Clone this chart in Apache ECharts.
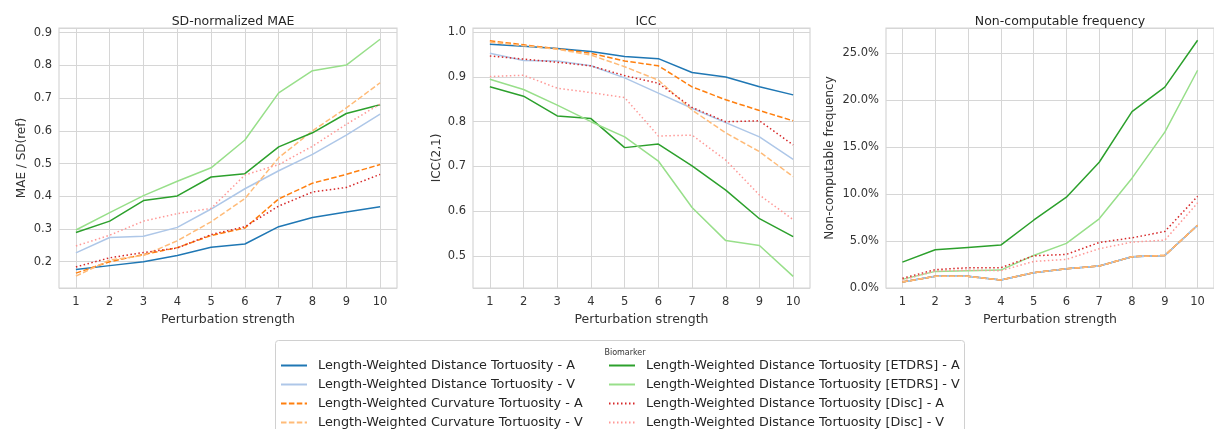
<!DOCTYPE html>
<html>
<head>
<meta charset="utf-8">
<script src="https://cdn.jsdelivr.net/npm/echarts@6/dist/echarts.min.js"></script>
<style>
  html, body { margin: 0; padding: 0; background: #fff; }
  #main { width: 1214px; height: 429px; }
</style>
</head>
<body>
<div id="main"></div>
<script>
// perturbation strengths on the x axis
const strengths = ['1', '2', '3', '4', '5', '6', '7', '8', '9', '10'];

const biomarkers = [
  'Length-Weighted Distance Tortuosity - A',
  'Length-Weighted Distance Tortuosity - V',
  'Length-Weighted Curvature Tortuosity - A',
  'Length-Weighted Curvature Tortuosity - V',
  'Length-Weighted Distance Tortuosity [ETDRS] - A',
  'Length-Weighted Distance Tortuosity [ETDRS] - V',
  'Length-Weighted Distance Tortuosity [Disc] - A',
  'Length-Weighted Distance Tortuosity [Disc] - V'
];

// SD-normalized MAE
const maeDistA  = [0.176, 0.188, 0.200, 0.219, 0.244, 0.254, 0.307, 0.335, 0.352, 0.368];
const maeDistV  = [0.227, 0.274, 0.278, 0.305, 0.361, 0.423, 0.478, 0.528, 0.587, 0.651];
const maeCurvA  = [0.165, 0.200, 0.222, 0.243, 0.280, 0.303, 0.392, 0.440, 0.467, 0.497];
const maeCurvV  = [0.156, 0.205, 0.219, 0.264, 0.322, 0.393, 0.518, 0.600, 0.670, 0.747];
const maeEtdrsA = [0.289, 0.324, 0.387, 0.401, 0.459, 0.469, 0.551, 0.594, 0.653, 0.680];
const maeEtdrsV = [0.297, 0.350, 0.402, 0.446, 0.487, 0.572, 0.716, 0.784, 0.801, 0.880];
const maeDiscA  = [0.184, 0.212, 0.228, 0.242, 0.283, 0.307, 0.370, 0.413, 0.427, 0.467];
const maeDiscV  = [0.248, 0.281, 0.324, 0.347, 0.363, 0.465, 0.497, 0.553, 0.620, 0.682];

// ICC(2,1)
const iccDistA  = [0.973, 0.969, 0.964, 0.957, 0.946, 0.941, 0.910, 0.900, 0.878, 0.860];
const iccDistV  = [0.953, 0.937, 0.936, 0.925, 0.898, 0.864, 0.830, 0.798, 0.766, 0.716];
const iccCurvA  = [0.981, 0.972, 0.963, 0.953, 0.936, 0.925, 0.878, 0.849, 0.825, 0.802];
const iccCurvV  = [0.978, 0.970, 0.962, 0.949, 0.923, 0.893, 0.826, 0.775, 0.733, 0.677];
const iccEtdrsA = [0.878, 0.857, 0.813, 0.807, 0.742, 0.750, 0.701, 0.647, 0.583, 0.543];
const iccEtdrsV = [0.895, 0.872, 0.837, 0.800, 0.766, 0.712, 0.608, 0.534, 0.523, 0.454];
const iccDiscA  = [0.947, 0.940, 0.933, 0.925, 0.903, 0.886, 0.832, 0.800, 0.802, 0.748];
const iccDiscV  = [0.901, 0.904, 0.875, 0.865, 0.854, 0.768, 0.770, 0.714, 0.636, 0.581];

// Non-computable frequency (%)
const ncDistA  = [0.64, 1.24, 1.24, 0.85, 1.63, 2.05, 2.34, 3.33, 3.47, 6.69];
const ncDistV  = [0.64, 1.24, 1.24, 0.85, 1.63, 2.05, 2.34, 3.33, 3.47, 6.69];
const ncCurvA  = [0.64, 1.24, 1.24, 0.85, 1.63, 2.05, 2.34, 3.33, 3.47, 6.69];
const ncCurvV  = [0.64, 1.24, 1.24, 0.85, 1.63, 2.05, 2.34, 3.33, 3.47, 6.69];
const ncEtdrsA = [2.76, 4.07, 4.32, 4.57, 7.22, 9.67, 13.4, 18.8, 21.4, 26.4];
const ncEtdrsV = [0.92, 1.77, 1.84, 1.91, 3.47, 4.75, 7.37, 11.7, 16.6, 23.2];
const ncDiscA  = [1.03, 1.95, 2.16, 2.16, 3.43, 3.58, 4.85, 5.35, 6.02, 9.77];
const ncDiscV  = [0.85, 1.81, 1.91, 1.84, 2.83, 3.05, 4.18, 4.89, 5.10, 9.07];

const colors = ['#1f77b4', '#aec7e8', '#ff7f0e', '#ffbb78', '#2ca02c', '#98df8a', '#d62728', '#ff9896'];
const dashes = ['solid', 'solid', [5.5, 2.4], [5.5, 2.4], 'solid', 'solid', [1.5, 2.5], [1.5, 2.5]];

const panels = [
  [maeDistA, maeDistV, maeCurvA, maeCurvV, maeEtdrsA, maeEtdrsV, maeDiscA, maeDiscV],
  [iccDistA, iccDistV, iccCurvA, iccCurvV, iccEtdrsA, iccEtdrsV, iccDiscA, iccDiscV],
  [ncDistA, ncDistV, ncCurvA, ncCurvV, ncEtdrsA, ncEtdrsV, ncDiscA, ncDiscV]
];

const font = 'DejaVu Sans';
const textColor = '#333';
const gridColor = '#d6d6d6';

const grids = [
  { left: 59, top: 28, width: 338, height: 260 },
  { left: 473, top: 28, width: 337, height: 260 },
  { left: 886, top: 28, width: 337, height: 260 }
].map(g => Object.assign(g, { show: true, borderColor: gridColor, borderWidth: 1.2, containLabel: false }));

const xAxes = grids.map((g, i) => ({
  type: 'category',
  gridIndex: i,
  data: strengths,
  boundaryGap: true,
  name: 'Perturbation strength',
  nameLocation: 'middle',
  nameGap: 22,
  nameTextStyle: { fontFamily: font, fontSize: 12.5, color: textColor },
  axisLine: { show: false },
  axisTick: { show: false, alignWithLabel: true },
  axisLabel: { fontFamily: font, fontSize: 11.5, color: textColor, margin: 8, interval: 0 },
  splitLine: { show: true, alignWithLabel: true, interval: 0, lineStyle: { color: gridColor, width: 1 } }
}));

const yCommon = {
  type: 'value',
  nameLocation: 'middle',
  nameTextStyle: { fontFamily: font, fontSize: 12, color: textColor },
  axisLine: { show: false },
  axisTick: { show: false },
  splitLine: { show: true, lineStyle: { color: gridColor, width: 1 } }
};

const yAxes = [
  Object.assign({}, yCommon, {
    gridIndex: 0, min: 0.1196, max: 0.9144, minInterval: 0.1, maxInterval: 0.1, splitNumber: 8,
    name: 'MAE / SD(ref)', nameGap: 31,
    axisLabel: { fontFamily: font, fontSize: 11.5, color: textColor, margin: 7,
      showMinLabel: false, showMaxLabel: false, formatter: v => v.toFixed(1) }
  }),
  Object.assign({}, yCommon, {
    gridIndex: 1, min: 0.428, max: 1.0096, minInterval: 0.1, maxInterval: 0.1, splitNumber: 6,
    name: 'ICC(2,1)', nameGap: 30,
    axisLabel: { fontFamily: font, fontSize: 11.5, color: textColor, margin: 7,
      showMinLabel: false, showMaxLabel: false, formatter: v => v.toFixed(1) }
  }),
  Object.assign({}, yCommon, {
    gridIndex: 2, min: 0, max: 27.7, minInterval: 5, maxInterval: 5, splitNumber: 6,
    name: 'Non-computable frequency', nameGap: 50,
    axisLabel: { fontFamily: font, fontSize: 11.5, color: textColor, margin: 7,
      showMinLabel: true, showMaxLabel: false, formatter: v => v.toFixed(1) + '%' }
  })
];

const series = [];
panels.forEach((panel, p) => {
  panel.forEach((vals, k) => {
    series.push({
      type: 'line',
      name: biomarkers[k],
      xAxisIndex: p,
      yAxisIndex: p,
      data: vals,
      symbol: 'none',
      color: colors[k],
      lineStyle: { color: colors[k], width: 1.5, type: dashes[k] },
      animation: false
    });
  });
});

const titleStyle = { fontFamily: font, fontSize: 12.5, fontWeight: 'normal', color: '#262626' };

const legendCommon = {
  orient: 'vertical',
  top: 359,
  height: 80,
  padding: 0,
  itemWidth: 26,
  itemHeight: 12,
  itemGap: 6,
  z: 5,
  itemStyle: { opacity: 0 },
  textStyle: { fontFamily: font, fontSize: 12.8, color: '#262626', padding: [0, 0, 0, 6] }
};

const option = {
  animation: false,
  backgroundColor: '#fff',
  title: [
    { text: 'SD-normalized MAE', left: 228, top: 10, textAlign: 'center', textStyle: titleStyle },
    { text: 'ICC', left: 641, top: 10, textAlign: 'center', textStyle: titleStyle },
    { text: 'Non-computable frequency', left: 1055, top: 10, textAlign: 'center', textStyle: titleStyle },
    { text: 'Biomarker', left: 620, top: 344, textAlign: 'center', z: 6,
      textStyle: { fontFamily: font, fontSize: 8, fontWeight: 'normal', color: '#333' } }
  ],
  graphic: [{
    type: 'rect',
    z: 1,
    silent: true,
    shape: { x: 275.5, y: 340.5, width: 689, height: 110, r: 3 },
    style: { fill: '#fff', stroke: '#d0d0d0', lineWidth: 1 }
  }],
  legend: [
    Object.assign({}, legendCommon, { left: 280, data: biomarkers.slice(0, 4) }),
    Object.assign({}, legendCommon, { left: 608, data: biomarkers.slice(4) })
  ],
  grid: grids,
  xAxis: xAxes,
  yAxis: yAxes,
  series: series
};

const chart = echarts.init(document.getElementById('main'), null, { renderer: 'canvas' });
chart.setOption(option);
</script>
</body>
</html>
